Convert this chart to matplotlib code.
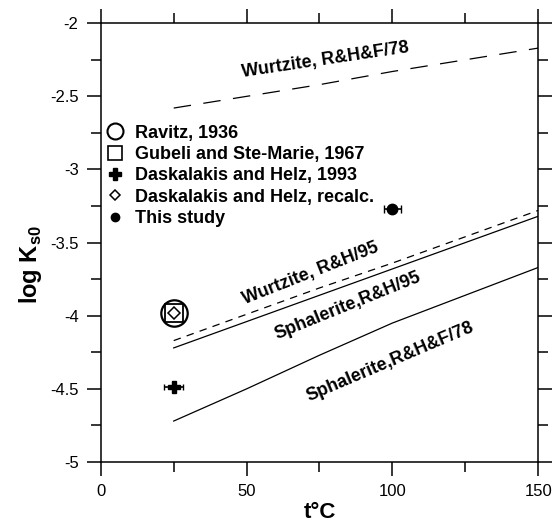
import matplotlib
matplotlib.use("Agg")
import matplotlib.pyplot as plt
from matplotlib.lines import Line2D
from matplotlib.ticker import MultipleLocator

plt.rcParams["font.family"] = ["Liberation Sans", "DejaVu Sans"]
plt.rcParams["mathtext.fontset"] = "custom"
plt.rcParams["mathtext.rm"] = "Liberation Sans"
plt.rcParams["mathtext.bf"] = "Liberation Sans:bold"

# solubility curves, log Ks0 vs temperature
t_curve = [25, 50, 75, 100, 125, 150]
wurtzite_rhf78 = [-2.58, -2.50, -2.42, -2.33, -2.25, -2.17]
wurtzite_rh95 = [-4.17, -3.99, -3.81, -3.64, -3.46, -3.28]
sphalerite_rh95 = [-4.22, -4.04, -3.86, -3.68, -3.50, -3.32]
sphalerite_rhf78 = [-4.72, -4.50, -4.27, -4.05, -3.86, -3.67]

# literature / measured points
t_ravitz, k_ravitz = [25], [-3.98]
t_gubeli, k_gubeli = [25], [-3.98]
t_dh93, k_dh93, xerr_dh93 = [25], [-4.486], [3.3]
t_dh_recalc, k_dh_recalc = [25], [-3.98]
t_this, k_this, xerr_this = [100], [-3.27], [3.0]

xticks = [0, 50, 100, 150]
yticks = [-2, -2.5, -3, -3.5, -4, -4.5, -5]

fig = plt.figure(figsize=(5.6, 5.28), dpi=100)
ax = fig.add_axes([0.18, 0.125, 0.781, 0.831])

lw = 0.9
ax.plot(t_curve, wurtzite_rhf78, color="black", lw=lw, dashes=(14, 10))
ax.plot(t_curve, wurtzite_rh95, color="black", lw=lw, dashes=(6, 5))
ax.plot(t_curve, sphalerite_rh95, color="black", lw=lw)
ax.plot(t_curve, sphalerite_rhf78, color="black", lw=lw)

ax.plot(t_ravitz, k_ravitz, "o", ms=19, mfc="none", mec="black", mew=1.6)
ax.plot(t_gubeli, k_gubeli, "s", ms=13, mfc="none", mec="black", mew=1.3)
ax.plot(t_dh_recalc, k_dh_recalc, "D", ms=6, mfc="none", mec="black", mew=1.1)
ax.errorbar(t_dh93, k_dh93, xerr=xerr_dh93, fmt="P", ms=8, color="black",
            ecolor="black", elinewidth=1.2, capsize=2.5)
ax.errorbar(t_this, k_this, xerr=xerr_this, fmt="o", ms=7.5, color="black",
            ecolor="black", elinewidth=1.2, capsize=3)

bold = dict(fontsize=13, fontweight="bold", ha="center", va="center",
            rotation_mode="anchor")
ax.text(77, -2.25, "Wurtzite, R&H&F/78", rotation=8.5, **bold)
ax.text(71.8, -3.71, "Wurtzite, R&H/95", rotation=21.5, **bold)
ax.text(84.8, -3.93, "Sphalerite,R&H/95", rotation=22, **bold)
ax.text(99.2, -4.315, "Sphalerite,R&H&F/78", rotation=23, **bold)

handles = [
    Line2D([], [], ls="none", marker="o", ms=11.5, mfc="none", mec="black", mew=1.5),
    Line2D([], [], ls="none", marker="s", ms=10, mfc="none", mec="black", mew=1.2),
    Line2D([], [], ls="none", marker="P", ms=8, color="black"),
    Line2D([], [], ls="none", marker="D", ms=5, mfc="none", mec="black", mew=1.1),
    Line2D([], [], ls="none", marker="o", ms=6, color="black"),
]
labels = ["Ravitz, 1936", "Gubeli and Ste-Marie, 1967", "Daskalakis and Helz, 1993",
          "Daskalakis and Helz, recalc.", "This study"]
ax.legend(handles, labels, loc="upper left", bbox_to_anchor=(-0.005, 0.785),
          frameon=False, handlelength=1.0, handletextpad=0.6, labelspacing=0.24,
          borderaxespad=0, prop=dict(weight="bold", size=13))

ax.set_xlim(0, 150)
ax.set_ylim(-5, -2)
ax.set_xticks(xticks)
ax.set_xticklabels([str(v) for v in xticks])
ax.set_yticks(yticks)
ax.set_yticklabels([f"{v:g}" for v in yticks])
ax.xaxis.set_minor_locator(MultipleLocator(25))
ax.yaxis.set_minor_locator(MultipleLocator(0.25))
ax.tick_params(which="both", direction="out", top=True, right=True, width=1.1,
               labelsize=12, pad=6)
ax.tick_params(which="major", length=10)
ax.tick_params(which="minor", length=7)
for s in ax.spines.values():
    s.set_linewidth(1.1)

ax.set_xlabel("t°C", fontsize=16, fontweight="bold", labelpad=2)
ax.set_ylabel(r"log K$_{\mathbf{s0}}$", fontsize=17, fontweight="bold")
ax.yaxis.set_label_coords(-0.13, 0.45)

fig.savefig("out.png", dpi=100)
